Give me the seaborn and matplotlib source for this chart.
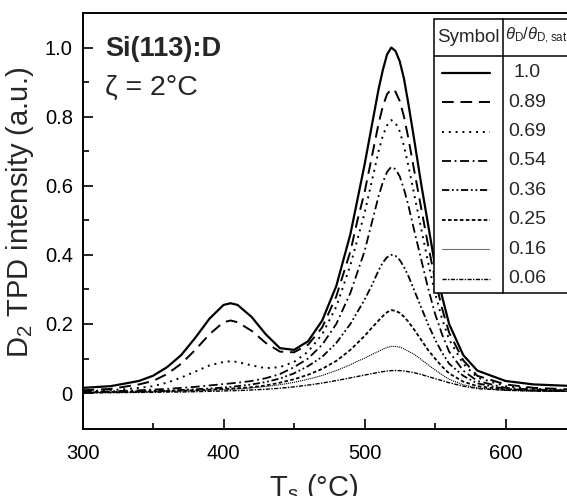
import matplotlib
matplotlib.use('Agg')
import matplotlib.pyplot as plt
from matplotlib.ticker import MultipleLocator, FixedLocator
import seaborn as sns
import pandas as pd

# sample temperatures (deg C)
temps = [300, 320, 340, 350, 360, 370, 380, 390, 400, 405, 410, 420, 430, 440, 450, 460,
         470, 480, 490, 495, 500, 505, 510, 513, 516, 519, 522, 525, 528, 531, 535, 540,
         545, 550, 555, 560, 570, 580, 600, 620, 650]

cov_100 = [0.015, 0.02, 0.035, 0.05, 0.075, 0.11, 0.16, 0.215, 0.255, 0.26, 0.255, 0.22, 0.17,
           0.13, 0.125, 0.15, 0.21, 0.31,
           0.46, 0.56, 0.66, 0.77, 0.88, 0.935, 0.98, 1.0, 0.99, 0.96, 0.91, 0.84, 0.74, 0.61,
           0.49, 0.37, 0.28, 0.2, 0.11,
           0.065, 0.035, 0.025, 0.02]
cov_089 = [0.008, 0.012, 0.025, 0.035, 0.055, 0.085, 0.125, 0.17, 0.205, 0.21, 0.205, 0.18, 0.145,
           0.12, 0.118, 0.14, 0.19, 0.28,
           0.41, 0.5, 0.58, 0.68, 0.78, 0.83, 0.865, 0.88, 0.872, 0.845, 0.80, 0.74, 0.65, 0.54,
           0.43, 0.33, 0.245, 0.175, 0.095,
           0.05, 0.025, 0.015, 0.01]
cov_069 = [0.005, 0.008, 0.015, 0.02, 0.03, 0.045, 0.062, 0.08, 0.09, 0.092, 0.09, 0.08, 0.072,
           0.075, 0.09, 0.12, 0.17, 0.25,
           0.37, 0.445, 0.52, 0.61, 0.70, 0.745, 0.775, 0.79, 0.782, 0.757, 0.715, 0.66, 0.58, 0.48,
           0.38, 0.29, 0.215, 0.155, 0.085,
           0.045, 0.02, 0.012, 0.008]
cov_054 = [0.003, 0.005, 0.008, 0.01, 0.012, 0.015, 0.018, 0.022, 0.026, 0.028, 0.03, 0.035, 0.043,
           0.055, 0.075, 0.1, 0.14, 0.2,
           0.29, 0.35, 0.41, 0.49, 0.57, 0.61, 0.64, 0.655, 0.648, 0.627, 0.59, 0.545, 0.475, 0.39,
           0.305, 0.23, 0.17, 0.12, 0.065,
           0.035, 0.015, 0.01, 0.007]
cov_036 = [0.002, 0.003, 0.005, 0.006, 0.007, 0.009, 0.011, 0.013, 0.016, 0.018, 0.02, 0.025, 0.032,
           0.042, 0.057, 0.078, 0.105, 0.145,
           0.2, 0.235, 0.27, 0.31, 0.355, 0.378, 0.393, 0.40, 0.397, 0.385, 0.365, 0.34, 0.3, 0.25,
           0.2, 0.155, 0.117, 0.085, 0.05,
           0.028, 0.012, 0.008, 0.005]
cov_025 = [0.002, 0.003, 0.004, 0.005, 0.006, 0.007, 0.008, 0.01, 0.012, 0.013, 0.014, 0.017, 0.022,
           0.03, 0.04, 0.053, 0.07, 0.093,
           0.125, 0.145, 0.165, 0.188, 0.21, 0.223, 0.234, 0.24, 0.238, 0.232, 0.221, 0.207, 0.185,
           0.155, 0.125, 0.1, 0.077, 0.057, 0.033,
           0.02, 0.01, 0.007, 0.005]
cov_016 = [0.001, 0.002, 0.003, 0.004, 0.005, 0.006, 0.007, 0.008, 0.01, 0.011, 0.012, 0.015, 0.019,
           0.024, 0.031, 0.04, 0.051, 0.065,
           0.082, 0.092, 0.101, 0.111, 0.121, 0.127, 0.132, 0.135, 0.135, 0.133, 0.128, 0.121, 0.113,
           0.098, 0.082, 0.067, 0.053, 0.04, 0.024,
           0.015, 0.008, 0.006, 0.005]
cov_006 = [0.0, 0.001, 0.002, 0.002, 0.003, 0.003, 0.004, 0.005, 0.006, 0.007, 0.007, 0.009, 0.011,
           0.014, 0.018, 0.023, 0.029, 0.036,
           0.044, 0.048, 0.052, 0.056, 0.06, 0.062, 0.064, 0.065, 0.065, 0.065, 0.064, 0.062, 0.059,
           0.054, 0.048, 0.042, 0.036, 0.03, 0.02,
           0.013, 0.008, 0.006, 0.005]

coverage_labels = ['1.0', '0.89', '0.69', '0.54', '0.36', '0.25', '0.16', '0.06']
series = [cov_100, cov_089, cov_069, cov_054, cov_036, cov_025, cov_016, cov_006]

# line style per coverage: (dash pattern or None for solid, width)
styles = [(None, 1.6), ((6, 3.5), 1.4), ((1, 2.5), 1.4), ((5, 2, 1, 2), 1.3),
          ((4, 1.5, 1, 1.5, 1, 1.5), 1.3), ((2, 1.3), 1.3), ((1, 0.8), 0.8), ((3, 1, 1, 1), 1.0)]

sns.set_style('ticks')
plt.rcParams['font.family'] = ['Liberation Sans', 'DejaVu Sans']
plt.rcParams['mathtext.fontset'] = 'custom'
plt.rcParams['mathtext.rm'] = 'Liberation Sans'
plt.rcParams['mathtext.it'] = 'Liberation Sans:italic'
plt.rcParams['mathtext.bf'] = 'Liberation Sans:bold'

W, H = 567, 496
fig = plt.figure(figsize=(W / 100, H / 100), dpi=100)
ax = fig.add_axes([82.5 / W, 67 / H, 493.5 / W, 416 / H])

long_df = pd.concat([pd.DataFrame({'T': temps, 'I': s, 'cov': lab})
                     for s, lab in zip(series, coverage_labels)])

for lab, (dash, lw) in zip(coverage_labels, styles):
    sub = long_df[long_df['cov'] == lab]
    sns.lineplot(data=sub, x='T', y='I', ax=ax, color='black', lw=lw, sort=False,
                 estimator=None, legend=False)
    if dash is not None:
        ax.lines[-1].set_dashes(dash)

ax.set_xlim(300, 650)
ax.set_ylim(-0.104, 1.1)
ax.set_xlabel('')
ax.set_ylabel('')
ax.xaxis.set_major_locator(FixedLocator([300, 400, 500, 600]))
ax.xaxis.set_minor_locator(MultipleLocator(50))
ax.yaxis.set_major_locator(FixedLocator([0, 0.2, 0.4, 0.6, 0.8, 1.0]))
ax.yaxis.set_minor_locator(FixedLocator([0.1, 0.3, 0.5, 0.7, 0.9]))
ax.set_yticklabels(['0', '0.2', '0.4', '0.6', '0.8', '1.0'])
ax.tick_params(which='both', direction='in', width=1.2, colors='black')
ax.tick_params(which='major', length=7)
ax.tick_params(which='minor', length=4)
ax.tick_params(axis='x', pad=11)
ax.tick_params(axis='y', pad=7)
for lbl in ax.get_xticklabels() + ax.get_yticklabels():
    lbl.set_fontsize(14.5)
for sp in ax.spines.values():
    sp.set_linewidth(1.4)
    sp.set_color('black')

fig.text(20 / W, 1 - 212 / H, r'D$_2$ TPD intensity (a.u.)', rotation=90, ha='center',
         va='center', fontsize=21)
fig.text(314 / W, 1 - 496 / H, r'T$_{\rm s}$ (°C)', ha='center', va='baseline', fontsize=21)
fig.text(105 / W, 1 - 56 / H, 'Si(113):D', fontsize=19.5, fontweight='bold', va='baseline')
fig.text(105 / W, 1 - 95 / H, 'ζ = 2°C', fontsize=20.5, va='baseline')


# coverage table drawn in pixel coordinates of the figure
def fx(px):
    return px / W


def fy(py):
    return 1 - py / H


tab_l, tab_r, tab_t, tab_b, col_x, head_b = 434, 575, 18.5, 293, 503, 56
kw = dict(color='black', lw=1.1, transform=fig.transFigure, clip_on=False)
fig.add_artist(plt.Rectangle((fx(tab_l), fy(tab_b)), fx(tab_r) - fx(tab_l), fy(tab_t) - fy(tab_b),
                             facecolor='white', edgecolor='black', lw=1.1,
                             transform=fig.transFigure))
fig.add_artist(plt.Line2D([fx(col_x), fx(col_x)], [fy(tab_t), fy(tab_b)], **kw))
fig.add_artist(plt.Line2D([fx(tab_l), fx(tab_r)], [fy(head_b), fy(head_b)], **kw))
fig.text(fx(468.5), fy(37), 'Symbol', ha='center', va='center', fontsize=13.5)
fig.text(fx(505), fy(36), r'$\theta_{\rm D}/\theta_{\rm D,sat}$', ha='left', va='center',
         fontsize=12)
row_y0, row_step = 72.7, 29.4
for i, (lab, (dash, lw)) in enumerate(zip(coverage_labels, styles)):
    yy = fy(row_y0 + i * row_step)
    ln = plt.Line2D([fx(442), fx(490)], [yy, yy], color='black', lw=lw, transform=fig.transFigure)
    if dash is not None:
        ln.set_dashes(dash)
    fig.add_artist(ln)
    fig.text(fx(527), yy, lab, ha='center', va='center', fontsize=14)

fig.savefig('out.png', dpi=100)
